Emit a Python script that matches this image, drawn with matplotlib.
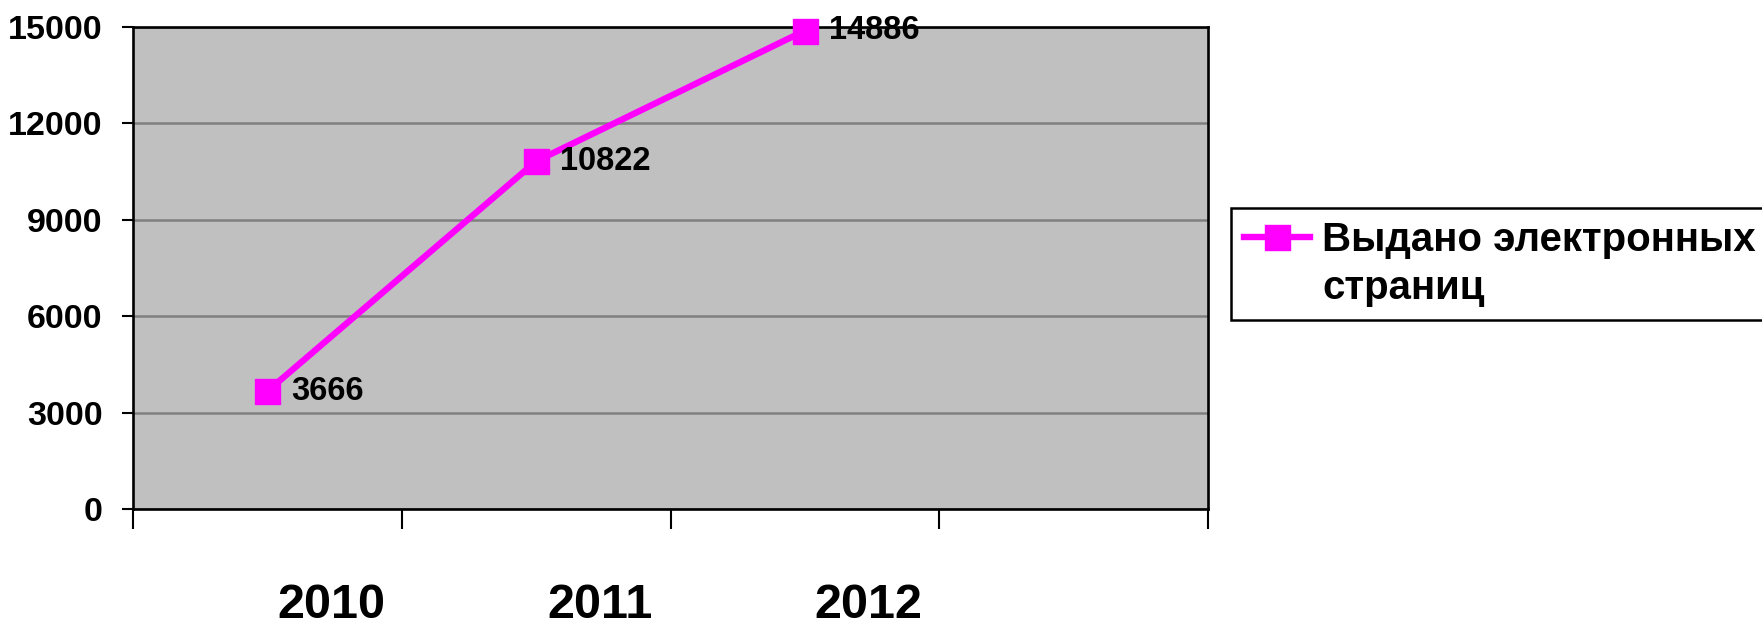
import numpy as np
import matplotlib
matplotlib.use('Agg')
import matplotlib.pyplot as plt
from matplotlib.legend_handler import HandlerLine2D
from matplotlib.transforms import Affine2D

plt.rcParams['font.family'] = ['Liberation Sans', 'DejaVu Sans']
plt.rcParams['font.weight'] = 'bold'

# data
years = ['2010', '2011', '2012']
pages = [3666, 10822, 14886]
series_name = 'Выдано электронных\nстраниц'
n_slots = 4
yticks = [0, 3000, 6000, 9000, 12000, 15000]

W, H = 1762, 627
fig = plt.figure(figsize=(W / 100, H / 100), dpi=100)
ax = fig.add_axes([133 / W, 118 / H, 1075 / W, 482 / H])
ax.set_facecolor('#C0C0C0')

x = np.arange(len(years)) + 0.5
line, = ax.plot(x, pages, color='#FF00FF', lw=4.6, marker='s', markersize=18,
                markerfacecolor='#FF00FF', markeredgecolor='#FF00FF',
                label=series_name, zorder=3, clip_on=False)

# value labels to the right of the points
for xi, v in zip(x, pages):
    ax.annotate(str(v), xy=(xi, v), xytext=(24, 0), textcoords='offset pixels',
                ha='left', va='center', fontsize=23.5, fontweight='bold', zorder=4)

ax.set_xlim(0, n_slots)
ax.set_ylim(0, 15000)
ax.set_yticks(yticks)
ax.set_yticklabels([str(t) for t in yticks], fontsize=24.5, fontweight='bold')
ax.set_xticks(range(n_slots + 1))
ax.set_xticklabels([])
ax.yaxis.grid(True, color='#808080', lw=1.8)
ax.set_axisbelow(True)

ax.tick_params(axis='y', direction='out', length=8, width=1.5, pad=14)
ax.tick_params(axis='x', direction='out', length=14.5, width=1.5)
for s in ax.spines.values():
    s.set_color('black')
    s.set_linewidth(1.9)

# category labels sit low and a bit right of their slots
for xi, yr in zip(x, years):
    ax.annotate(yr, xy=(xi, 0), xycoords=('data', 'axes fraction'),
                xytext=(64, -97), textcoords='offset pixels',
                ha='center', va='center', fontsize=35, fontweight='bold')


class TopHandler(HandlerLine2D):
    # put the legend key level with the first text line
    def create_artists(self, *args, **kwargs):
        arts = super().create_artists(*args, **kwargs)
        for a in arts:
            a.set_transform(a.get_transform() + Affine2D().translate(0, 28))
        return arts


leg = fig.legend(handles=[line], loc='upper left',
                 bbox_to_anchor=(1231 / W, 1 - 208 / H), bbox_transform=fig.transFigure,
                 borderaxespad=0, fontsize=29, frameon=True, fancybox=False,
                 edgecolor='black', framealpha=1, borderpad=0.32,
                 handlelength=1.65, handletextpad=0.3,
                 handler_map={line: TopHandler()})
leg.get_frame().set_linewidth(1.8)
for t in leg.get_texts():
    t.set_linespacing(1.35)
    t.set_fontweight('bold')

fig.savefig('out.png', dpi=100)
